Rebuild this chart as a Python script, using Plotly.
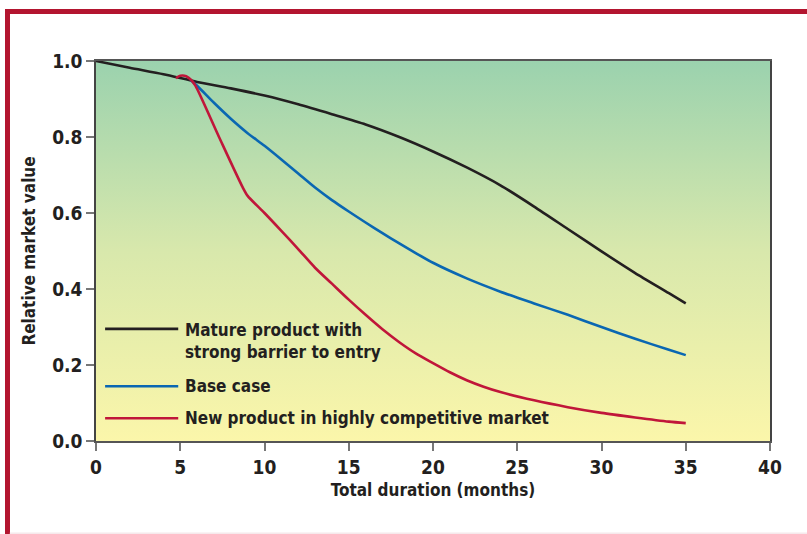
import plotly.graph_objects as go

# Relative market value over time for three market scenarios
mature_months = [0, 2, 4, 6, 8, 10, 12, 14, 16, 18, 20, 22, 24, 26, 28, 30, 32, 34, 35]
mature_value = [1.0, 0.982, 0.965, 0.945, 0.928, 0.909, 0.886, 0.860, 0.833, 0.800,
                0.762, 0.720, 0.673, 0.617, 0.558, 0.499, 0.442, 0.389, 0.362]

base_months = [5.6, 6, 7, 8, 9, 10, 11, 12, 13, 14, 15, 16, 17, 18, 19, 20,
               22, 24, 26, 28, 30, 32, 34, 35]
base_value = [0.95, 0.935, 0.89, 0.848, 0.81, 0.777, 0.741, 0.704, 0.667, 0.634,
              0.604, 0.575, 0.547, 0.520, 0.494, 0.469, 0.428, 0.393, 0.362,
              0.332, 0.300, 0.269, 0.240, 0.226]

new_months = [4.75, 5.0, 5.35, 5.65, 5.9, 7.3, 8.7, 9, 10, 11, 12, 13, 14, 15, 16,
              17, 18, 19, 20, 21, 22, 23, 24, 26, 28, 30, 32, 34, 35]
new_value = [0.955, 0.961, 0.96, 0.95, 0.935, 0.80, 0.668, 0.645, 0.60, 0.553, 0.505,
             0.456, 0.414, 0.372, 0.332, 0.294, 0.26, 0.23, 0.205, 0.181, 0.16,
             0.143, 0.129, 0.107, 0.089, 0.074, 0.062, 0.051, 0.047]

series_names = ["Mature product with<br>strong barrier to entry",
                "Base case",
                "New product in highly competitive market"]
series_colors = ["#231f20", "#0a67b2", "#c0163a"]

x_ticks = [0, 5, 10, 15, 20, 25, 30, 35, 40]
y_ticks = [0.0, 0.2, 0.4, 0.6, 0.8, 1.0]

FONT = "Liberation Sans Narrow, DejaVu Sans Condensed, Arial Narrow, sans-serif"
BORDER = "#b3152f"
INK = "#231f20"

fig = go.Figure()

# vertical gradient panel behind the curves
fig.add_trace(go.Scatter(
    x=[0, 40, 40, 0, 0], y=[0, 0, 1, 1, 0],
    mode="lines", line=dict(width=0), fill="toself",
    fillgradient=dict(type="vertical", start=0, stop=1,
                      colorscale=[[0, "#fbf6aa"], [0.5, "#d8e8ac"], [1, "#9bd2ae"]]),
    hoverinfo="skip", showlegend=False,
))

for xs, ys, name, col in zip([mature_months, base_months, new_months],
                             [mature_value, base_value, new_value],
                             series_names, series_colors):
    fig.add_trace(go.Scatter(x=xs, y=ys, mode="lines", name=name,
                             line=dict(color=col, width=2.6, shape="spline",
                                       smoothing=0.7),
                             showlegend=False))

# hand-placed legend inside the panel
legend_rows = [(0.295, 0.262), (0.144, 0.144), (0.060, 0.060)]
shapes = []
annotations = []
for (line_y, text_y), name, col in zip(legend_rows, series_names, series_colors):
    shapes.append(dict(type="line", xref="paper", yref="paper",
                       x0=0.0135, x1=0.122, y0=line_y, y1=line_y,
                       line=dict(color=col, width=2.6)))
    annotations.append(dict(xref="paper", yref="paper", x=0.129, y=text_y,
                            xanchor="left", yanchor="middle",
                            text=f"<b>{name}</b>",
                            showarrow=False, align="left",
                            font=dict(family=FONT, size=17, color=INK)))

# frame around the whole graphic (left and top rules)
shapes.append(dict(type="path", xref="paper", yref="paper",
                   path="M -0.1313 -0.26 L -0.1313 1.1303 L 1.06 1.1303",
                   line=dict(color=BORDER, width=5)))
shapes.append(dict(type="line", xref="paper", yref="paper",
                   x0=-0.128, x1=1.06, y0=-0.2425, y1=-0.2425,
                   line=dict(color="#f2dde1", width=1)))

fig.update_layout(
    width=807, height=534,
    margin=dict(l=96, r=37, t=61, b=93),
    paper_bgcolor="white", plot_bgcolor="white",
    font=dict(family=FONT, color=INK),
    shapes=shapes, annotations=annotations,
)

fig.update_xaxes(
    range=[0, 40], tickvals=x_ticks, ticktext=[f"<b>{v}</b>" for v in x_ticks],
    showgrid=False, zeroline=False,
    showline=True, linecolor="#555555", linewidth=1.5, mirror=True,
    ticks="outside", ticklen=8, tickcolor="#777777", tickwidth=1.5,
    tickfont=dict(family=FONT, size=19, color=INK),
    title=dict(text="<b>Total duration (months)</b>", standoff=8,
               font=dict(family=FONT, size=17, color=INK)),
)
fig.update_yaxes(
    range=[0, 1], tickvals=y_ticks, ticktext=[f"<b>{v:.1f}</b>" for v in y_ticks],
    showgrid=False, zeroline=False,
    showline=True, linecolor="#444444", linewidth=1.5, mirror=True,
    ticks="outside", ticklen=8, tickcolor="#777777", tickwidth=1.5,
    tickfont=dict(family=FONT, size=19, color=INK),
    title=dict(text="<b>Relative market value</b>", standoff=12,
               font=dict(family=FONT, size=17, color=INK)),
)

fig.write_html("out.html")
